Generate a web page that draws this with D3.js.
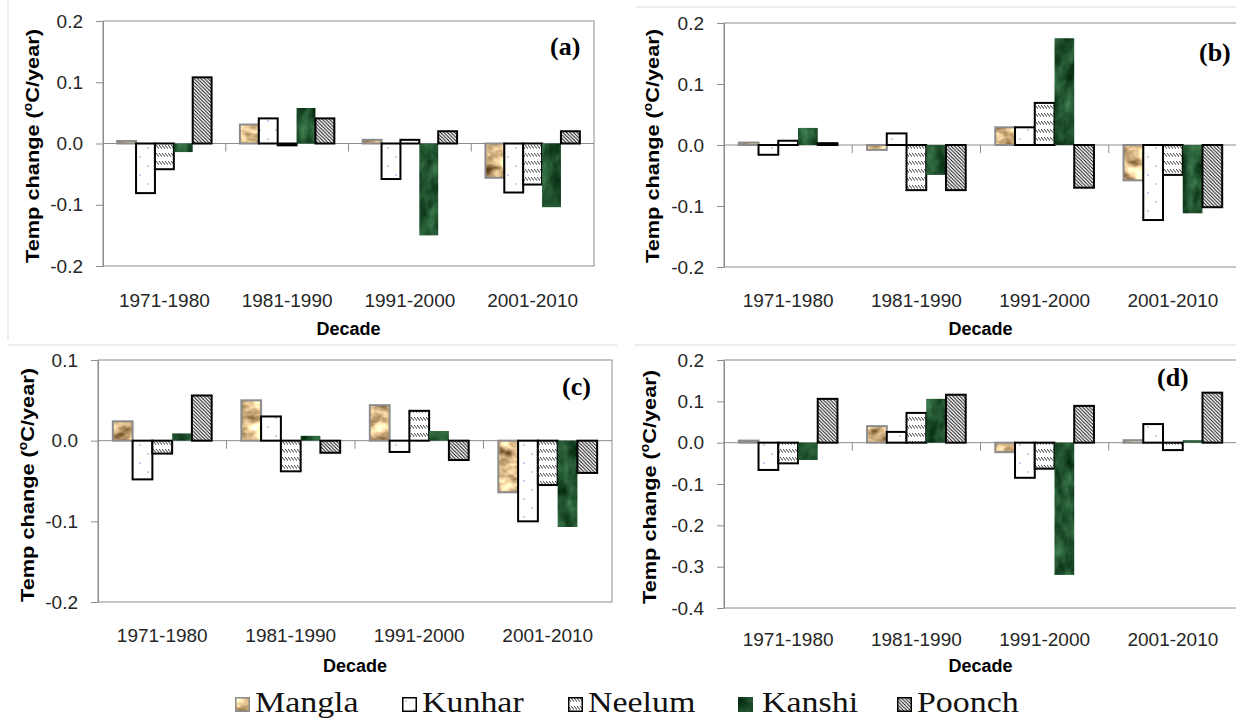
<!DOCTYPE html>
<html>
<head>
<meta charset="utf-8">
<script src="https://cdn.jsdelivr.net/npm/d3@7"></script>
<style>
  body { margin: 0; background: #fff; }
  svg { display: block; }
</style>
</head>
<body>
<script>
// Decadal temperature trend per basin, four panels (a)-(d)

var decades = ["1971-1980", "1981-1990", "1991-2000", "2001-2010"];
var basins = ["Mangla", "Kunhar", "Neelum", "Kanshi", "Poonch"];

// one row per basin, one value per decade (degC / year)
var valuesA = [
    [0.004, 0.031, 0.006, -0.056],
    [-0.081, 0.041, -0.058, -0.080],
    [-0.042, -0.003, 0.006, -0.067],
    [-0.014, 0.058, -0.150, -0.104],
    [0.108, 0.041, 0.020, 0.020]
];
var valuesB = [
    [0.004, -0.008, 0.029, -0.058],
    [-0.016, 0.019, 0.029, -0.123],
    [0.007, -0.074, 0.069, -0.049],
    [0.028, -0.049, 0.175, -0.112],
    [0.003, -0.074, -0.070, -0.102]
];
var valuesC = [
    [0.024, 0.050, 0.044, -0.064],
    [-0.048, 0.030, -0.014, -0.100],
    [-0.016, -0.038, 0.037, -0.055],
    [0.009, 0.006, 0.012, -0.107],
    [0.056, -0.015, -0.024, -0.040]
];
var valuesD = [
    [0.005, 0.040, -0.023, 0.006],
    [-0.066, 0.026, -0.085, 0.045],
    [-0.050, 0.072, -0.063, -0.018],
    [-0.042, 0.106, -0.320, 0.006],
    [0.106, 0.116, 0.089, 0.121]
];

var ticksAB = [0.2, 0.1, 0.0, -0.1, -0.2];
var ticksC = [0.1, 0.0, -0.1, -0.2];
var ticksD = [0.2, 0.1, 0.0, -0.1, -0.2, -0.3, -0.4];

var width = 1236, height = 718;
var axisGray = "#8c8c8c";
var sans = "'Liberation Sans', Arial, sans-serif";
var serif = "'Liberation Serif', 'Times New Roman', serif";

var svg = d3.select("body")
    .append("svg")
    .attr("width", width)
    .attr("height", height);

// ---- fills ----
var defs = svg.append("defs");

function texture(id, matrix, freq, seed) {
    var f = defs.append("filter")
        .attr("id", id)
        .attr("x", 0).attr("y", 0).attr("width", 1).attr("height", 1)
        .attr("color-interpolation-filters", "sRGB");
    f.append("feTurbulence")
        .attr("type", "fractalNoise")
        .attr("baseFrequency", freq)
        .attr("numOctaves", 3)
        .attr("seed", seed)
        .attr("result", "n");
    f.append("feColorMatrix")
        .attr("in", "n")
        .attr("type", "matrix")
        .attr("values", matrix)
        .attr("result", "c");
    f.append("feComposite")
        .attr("in", "c")
        .attr("in2", "SourceGraphic")
        .attr("operator", "in");
}
texture("tex-mangla", "1.3 0 0 0 0.2  1.3 0 0 0 0.07  1.2 0 0 0 -0.07  0 0 0 0 1", "0.06 0.09", 4);
texture("tex-kanshi", "0.35 0 0 0 -0.05  0.5 0 0 0 0.07  0.38 0 0 0 -0.01  0 0 0 0 1", "0.08 0.05", 9);

var dots = defs.append("pattern")
    .attr("id", "dots-kunhar")
    .attr("patternUnits", "userSpaceOnUse")
    .attr("width", 16).attr("height", 18);
dots.append("rect").attr("width", 16).attr("height", 18).attr("fill", "#fff");
dots.append("circle").attr("cx", 4).attr("cy", 4).attr("r", 0.7).attr("fill", "#5b8ad6");
dots.append("circle").attr("cx", 12).attr("cy", 13).attr("r", 0.7).attr("fill", "#5b8ad6");

var hatchN = defs.append("pattern")
    .attr("id", "hatch-neelum")
    .attr("patternUnits", "userSpaceOnUse")
    .attr("width", 3).attr("height", 8);
hatchN.append("rect").attr("width", 3).attr("height", 8).attr("fill", "#fff");
hatchN.append("path").attr("d", "M-0.5,0.5 L3.5,5.2").attr("stroke", "#000").attr("stroke-width", 0.8);

var hatchP = defs.append("pattern")
    .attr("id", "hatch-poonch")
    .attr("patternUnits", "userSpaceOnUse")
    .attr("width", 3.5).attr("height", 3.5);
hatchP.append("rect").attr("width", 3.5).attr("height", 3.5).attr("fill", "#fff");
hatchP.append("path")
    .attr("d", "M0,0 L3.5,3.5 M-1,2.5 L1,4.5 M2.5,-1 L4.5,1")
    .attr("stroke", "#000").attr("stroke-width", 0.9);

// how each basin is painted
var looks = [
    { fill: "#000", filter: "url(#tex-mangla)", stroke: "#8c8c8c" },
    { fill: "url(#dots-kunhar)", filter: null, stroke: "#000" },
    { fill: "url(#hatch-neelum)", filter: null, stroke: "#000" },
    { fill: "#000", filter: "url(#tex-kanshi)", stroke: null },
    { fill: "url(#hatch-poonch)", filter: null, stroke: "#000" }
];

// faint chart-area borders
var borders = [[8, 0, 8, 340], [8, 345, 617, 345], [635, 345, 1236, 345], [636, 7, 1236, 7]];
svg.selectAll(".border").data(borders).enter().append("line")
    .attr("x1", function(d){ return d[0]; })
    .attr("y1", function(d){ return d[1]; })
    .attr("x2", function(d){ return d[2]; })
    .attr("y2", function(d){ return d[3]; })
    .attr("stroke", "#d9d9d9");

function drawPanel(p) {
    var g = svg.append("g");

    var y = d3.scaleLinear().domain(p.domain).range([p.bottom, p.top]);
    var x0 = d3.scaleBand().domain(decades).range([p.left, p.right]);
    var x1 = d3.scaleBand().domain(basins)
        .range([0, x0.bandwidth()])
        .paddingInner(0)
        .paddingOuter(0.75);

    // plot area frame
    g.append("rect")
        .attr("x", p.left).attr("y", p.top)
        .attr("width", p.right - p.left)
        .attr("height", p.bottom - p.top)
        .attr("fill", "none")
        .attr("stroke", axisGray);

    // Y Axis
    var yAxis = g.append("g")
        .attr("transform", "translate(" + p.left + ",0)")
        .call(d3.axisLeft(y)
            .tickValues(p.ticks)
            .tickSize(7)
            .tickSizeOuter(0)
            .tickPadding(13)
            .tickFormat(function(d){ return d.toFixed(1); }));
    yAxis.select(".domain").attr("stroke", axisGray);
    yAxis.selectAll(".tick line").attr("stroke", axisGray);
    yAxis.selectAll(".tick text")
        .attr("font-family", sans)
        .attr("font-size", "19px")
        .attr("fill", "#262626");

    // zero line + category ticks
    var y0 = y(0);
    g.append("line")
        .attr("x1", p.left).attr("x2", p.right)
        .attr("y1", y0).attr("y2", y0)
        .attr("stroke", axisGray);
    g.selectAll(".ctick").data(decades.slice(1)).enter().append("line")
        .attr("x1", function(d){ return x0(d); })
        .attr("x2", function(d){ return x0(d); })
        .attr("y1", y0).attr("y2", y0 + 8)
        .attr("stroke", axisGray);

    // bars
    p.values.forEach(function(row, si){
        var look = looks[si];
        var bars = row.map(function(v, di){
            return { x: x0(decades[di]) + x1(basins[si]), v: v };
        });
        g.selectAll(".bar-" + si).data(bars).enter().append("rect")
            .attr("x", function(d){ return d.x; })
            .attr("y", function(d){ return Math.min(y(d.v), y0); })
            .attr("width", x1.bandwidth())
            .attr("height", function(d){ return Math.abs(y(d.v) - y0); })
            .attr("fill", look.fill)
            .attr("filter", look.filter);
        if (look.stroke) {
            g.selectAll(".edge-" + si).data(bars).enter().append("rect")
                .attr("x", function(d){ return d.x; })
                .attr("y", function(d){ return Math.min(y(d.v), y0); })
                .attr("width", x1.bandwidth())
                .attr("height", function(d){ return Math.abs(y(d.v) - y0); })
                .attr("fill", "none")
                .attr("stroke", look.stroke)
                .attr("stroke-width", 2);
        }
    });

    // category labels
    g.selectAll(".clabel").data(decades).enter().append("text")
        .attr("x", function(d){ return x0(d) + x0.bandwidth() / 2; })
        .attr("y", p.catY)
        .attr("text-anchor", "middle")
        .attr("font-family", sans)
        .attr("font-size", "19px")
        .attr("fill", "#262626")
        .text(function(d){ return d; });

    // axis titles
    g.append("text")
        .attr("x", (p.left + p.right) / 2)
        .attr("y", p.titleY)
        .attr("text-anchor", "middle")
        .attr("font-family", sans)
        .attr("font-weight", "bold")
        .attr("font-size", "18px")
        .text("Decade");

    var yt = g.append("text")
        .attr("transform", "translate(" + p.yTitleX + "," + p.yTitleY + ") rotate(-90)")
        .attr("text-anchor", "middle")
        .attr("font-family", sans)
        .attr("font-weight", "bold")
        .attr("font-size", "19px")
        .attr("textLength", 234)
        .attr("lengthAdjust", "spacingAndGlyphs");
    yt.append("tspan").text("Temp change (");
    yt.append("tspan").attr("baseline-shift", "super").attr("font-size", "12px").text("o");
    yt.append("tspan").text("C/year)");

    // panel letter
    g.append("text")
        .attr("x", p.tagX)
        .attr("y", p.tagY)
        .attr("font-family", serif)
        .attr("font-weight", "bold")
        .attr("font-size", "26px")
        .text(p.tag);
}

drawPanel({ tag: "(a)", values: valuesA, domain: [-0.2, 0.2], ticks: ticksAB,
    left: 103, right: 594, top: 21, bottom: 266, catY: 307, titleY: 335,
    yTitleX: 39, yTitleY: 146, tagX: 550, tagY: 55 });
drawPanel({ tag: "(b)", values: valuesB, domain: [-0.2, 0.2], ticks: ticksAB,
    left: 724, right: 1237, top: 23, bottom: 267, catY: 307, titleY: 335,
    yTitleX: 659, yTitleY: 146, tagX: 1199, tagY: 61 });
drawPanel({ tag: "(c)", values: valuesC, domain: [-0.2, 0.1], ticks: ticksC,
    left: 98, right: 612, top: 360, bottom: 602, catY: 642, titleY: 672,
    yTitleX: 34, yTitleY: 485, tagX: 562, tagY: 395 });
drawPanel({ tag: "(d)", values: valuesD, domain: [-0.4, 0.2], ticks: ticksD,
    left: 724, right: 1237, top: 360, bottom: 608, catY: 646, titleY: 672,
    yTitleX: 656, yTitleY: 487, tagX: 1157, tagY: 386 });

// Legend
var legendX = [235, 402, 568, 738, 897];
var legend = svg.append("g");
basins.forEach(function(name, i){
    var look = looks[i];
    var row = legend.append("g")
        .attr("transform", "translate(" + legendX[i] + ",697)");
    row.append("rect")
        .attr("width", 15).attr("height", 15)
        .attr("fill", look.fill)
        .attr("filter", look.filter);
    if (look.stroke) {
        row.append("rect")
            .attr("x", 0.75).attr("y", 0.75)
            .attr("width", 13.5).attr("height", 13.5)
            .attr("fill", "none")
            .attr("stroke", look.stroke)
            .attr("stroke-width", 1.5);
    }
    row.append("text")
        .attr("transform", "translate(" + (i == 3 ? 24 : 20) + ",15) scale(1.17,1)")
        .attr("font-family", serif)
        .attr("font-size", "29px")
        .attr("fill", "#111")
        .text(name);
});
</script>
</body>
</html>
